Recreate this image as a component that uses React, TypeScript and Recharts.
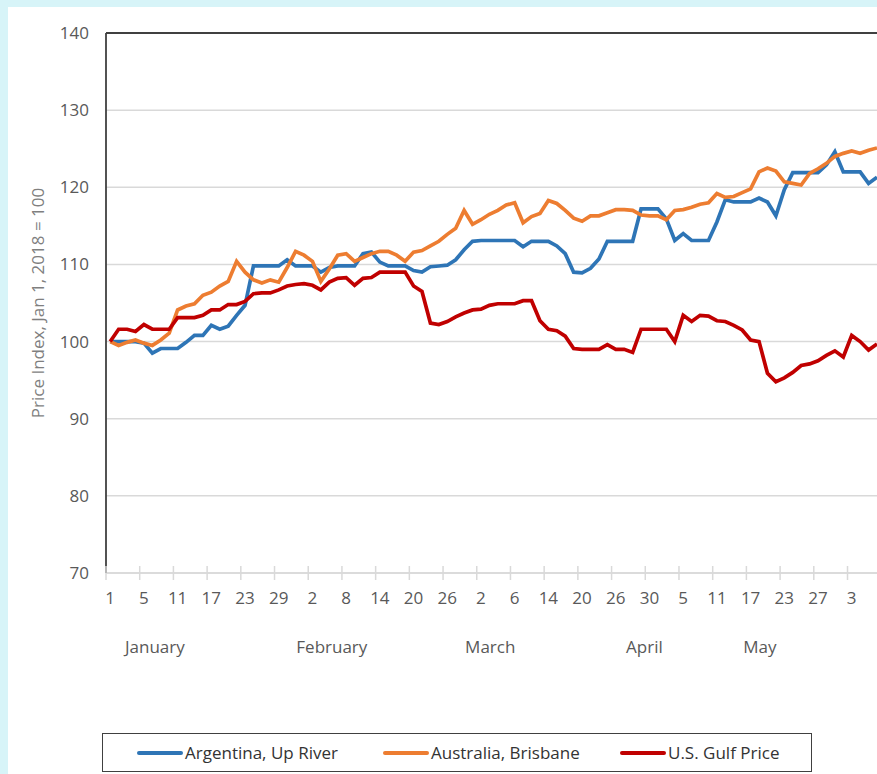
import { LineChart, Line, XAxis, YAxis, CartesianGrid, ReferenceLine } from "recharts";

// x axis: one point per trading day, a label every 4th point
const DAY_LABELS = ["1", "5", "11", "17", "23", "29", "2", "8", "14", "20", "26", "2", "6", "14", "20", "26", "30", "5", "11", "17", "23", "27", "3"];
const MONTHS = ["January", "February", "March", "April", "May"];
const MONTH_AT = [5.3, 26.3, 45.1, 63.4, 77.1];
const Y_TICKS = [70, 80, 90, 100, 110, 120, 130, 140];

const ARGENTINA = [
  100.0, 100.0, 100.0, 100.0, 99.8, 98.5, 99.1, 99.1, 99.1, 99.9,
  100.8, 100.8, 102.1, 101.6, 102.0, 103.4, 104.7, 109.8, 109.8, 109.8,
  109.8, 110.6, 109.8, 109.8, 109.8, 109.0, 109.6, 109.8, 109.8, 109.8,
  111.4, 111.6, 110.3, 109.8, 109.8, 109.8, 109.2, 109.0, 109.7, 109.8,
  109.9, 110.6, 111.9, 113.0, 113.1, 113.1, 113.1, 113.1, 113.1, 112.3,
  113.0, 113.0, 113.0, 112.4, 111.4, 109.0, 108.9, 109.5, 110.7, 113.0,
  113.0, 113.0, 113.0, 117.2, 117.2, 117.2, 115.9, 113.1, 114.0, 113.1,
  113.1, 113.1, 115.5, 118.4, 118.1, 118.1, 118.1, 118.6, 118.1, 116.3,
  119.7, 121.9, 121.9, 121.9, 121.9, 122.9, 124.6, 122.0, 122.0, 122.0,
  120.5, 121.3,
];

const AUSTRALIA = [
  100.0, 99.5, 99.9, 100.2, 99.8, 99.5, 100.2, 101.1, 104.1, 104.6,
  104.9, 106.0, 106.4, 107.2, 107.8, 110.4, 109.0, 108.0, 107.6, 108.0,
  107.7, 109.6, 111.7, 111.2, 110.4, 107.8, 109.4, 111.2, 111.4, 110.4,
  110.9, 111.4, 111.7, 111.7, 111.2, 110.4, 111.6, 111.8, 112.4, 113.0,
  113.9, 114.7, 117.0, 115.2, 115.8, 116.5, 117.0, 117.7, 118.0, 115.4,
  116.2, 116.6, 118.3, 117.9, 117.0, 116.0, 115.6, 116.3, 116.3, 116.7,
  117.1, 117.1, 117.0, 116.4, 116.3, 116.3, 115.8, 117.0, 117.1, 117.4,
  117.8, 118.0, 119.2, 118.7, 118.8, 119.3, 119.8, 122.0, 122.5, 122.1,
  120.7, 120.5, 120.3, 121.8, 122.4, 123.1, 124.0, 124.4, 124.7, 124.4,
  124.8, 125.1,
];

const US_GULF = [
  100.0, 101.6, 101.6, 101.3, 102.2, 101.6, 101.6, 101.6, 103.1, 103.1,
  103.1, 103.4, 104.1, 104.1, 104.8, 104.8, 105.2, 106.2, 106.3, 106.3,
  106.7, 107.2, 107.4, 107.5, 107.3, 106.7, 107.7, 108.2, 108.3, 107.3,
  108.2, 108.3, 109.0, 109.0, 109.0, 109.0, 107.2, 106.5, 102.4, 102.2,
  102.6, 103.2, 103.7, 104.1, 104.2, 104.7, 104.9, 104.9, 104.9, 105.3,
  105.3, 102.7, 101.6, 101.4, 100.7, 99.1, 99.0, 99.0, 99.0, 99.6,
  99.0, 99.0, 98.6, 101.6, 101.6, 101.6, 101.6, 100.0, 103.4, 102.6,
  103.4, 103.3, 102.7, 102.6, 102.1, 101.5, 100.2, 100.0, 95.9, 94.8,
  95.3, 96.0, 96.9, 97.1, 97.5, 98.2, 98.8, 98.0, 100.8, 100.0,
  98.9, 99.7,
];

const SERIES = [
  { key: "argentina", name: "Argentina, Up River", color: "#2e75b6" },
  { key: "australia", name: "Australia, Brisbane", color: "#ed7d31" },
  { key: "usGulf", name: "U.S. Gulf Price", color: "#c00000" },
];

const data = ARGENTINA.map((v, i) => ({
  day: i,
  argentina: v,
  australia: AUSTRALIA[i],
  usGulf: US_GULF[i],
}));

const labelTicks = DAY_LABELS.map((_, k) => k * 4);
const markTicks = DAY_LABELS.map((_, k) => k * 4 - 0.5);
const allTicks = [...markTicks, ...labelTicks, ...MONTH_AT];

const FONT = "'Open Sans', sans-serif";

function DayTick(props: any) {
  const { x, y, payload } = props;
  const v = payload.value;
  const mark = markTicks.indexOf(v);
  if (mark >= 0) {
    return <line x1={x} x2={x} y1={y - 7} y2={y + 7} stroke="#d9d9d9" strokeWidth={1.5} />;
  }
  const lab = labelTicks.indexOf(v);
  if (lab >= 0) {
    return (
      <text x={x} y={y + 31} textAnchor="middle" fill="#595959" fontSize={17} fontFamily={FONT}>
        {DAY_LABELS[lab]}
      </text>
    );
  }
  const m = MONTH_AT.indexOf(v);
  if (m >= 0) {
    return (
      <text x={x} y={y + 80} textAnchor="middle" fill="#595959" fontSize={17} fontFamily={FONT}>
        {MONTHS[m]}
      </text>
    );
  }
  return <g />;
}

function yTitle(props: any) {
  const vb = props && props.viewBox ? props.viewBox : { y: 33, height: 540 };
  const cy = vb.y + vb.height / 2;
  return (
    <text
      x={37}
      y={cy}
      transform={`rotate(-90 37 ${cy})`}
      textAnchor="middle"
      dominantBaseline="central"
      fill="#7f7f7f"
      fontSize={17}
      fontFamily={FONT}
    >
      Price Index, Jan 1, 2018 = 100
    </text>
  );
}

// legend item widths (px) so entries line up like the original
const LEGEND_W = [246, 237, 170];

export default function App() {
  return (
    <div style={{ position: "relative", width: 877, height: 774, background: "#d7f4f8", overflow: "hidden" }}>
      <style>{"body{margin:0}"}</style>
      <div style={{ position: "absolute", left: 8, top: 7, right: 0, bottom: 0, background: "#ffffff" }} />
      <div style={{ position: "absolute", left: 0, top: 0 }}>
        <LineChart width={877} height={700} data={data} margin={{ top: 33, right: 0, left: 0, bottom: 27 }}>
          <CartesianGrid vertical={false} stroke="#d9d9d9" strokeWidth={1.5} />
          <XAxis
            dataKey="day"
            type="number"
            domain={[-0.5, 91]}
            allowDataOverflow
            ticks={allTicks}
            interval={0}
            tickSize={0}
            tickMargin={0}
            tickLine={false}
            tick={<DayTick />}
            height={100}
            axisLine={{ stroke: "#d9d9d9", strokeWidth: 1.5 }}
          />
          <YAxis
            type="number"
            domain={[70, 140]}
            allowDataOverflow
            ticks={Y_TICKS}
            interval={0}
            width={106}
            tickLine={false}
            tickSize={6}
            tickMargin={11}
            axisLine={{ stroke: "#404040", strokeWidth: 1.8 }}
            tick={{ fill: "#595959", fontSize: 17, fontFamily: FONT }}
            label={yTitle}
          />
          <ReferenceLine y={140} stroke="#404040" strokeWidth={1.8} />
          {SERIES.map((s) => (
            <Line
              key={s.key}
              type="linear"
              dataKey={s.key}
              name={s.name}
              stroke={s.color}
              strokeWidth={3.7}
              dot={false}
              activeDot={false}
              isAnimationActive={false}
            />
          ))}
        </LineChart>
      </div>
      <div
        style={{
          position: "absolute",
          left: 102,
          top: 733,
          width: 710,
          height: 39,
          border: "1.5px solid #404040",
          boxSizing: "border-box",
          display: "flex",
          alignItems: "center",
          paddingLeft: 34,
          fontFamily: FONT,
          fontSize: 17,
          color: "#333333",
        }}
      >
        {SERIES.map((s, i) => (
          <div key={s.key} style={{ display: "flex", alignItems: "center", width: LEGEND_W[i], flex: "none" }}>
            <div style={{ width: 46, height: 4, background: s.color, borderRadius: 2, marginRight: 2 }} />
            <span style={{ whiteSpace: "nowrap" }}>{s.name}</span>
          </div>
        ))}
      </div>
    </div>
  );
}
